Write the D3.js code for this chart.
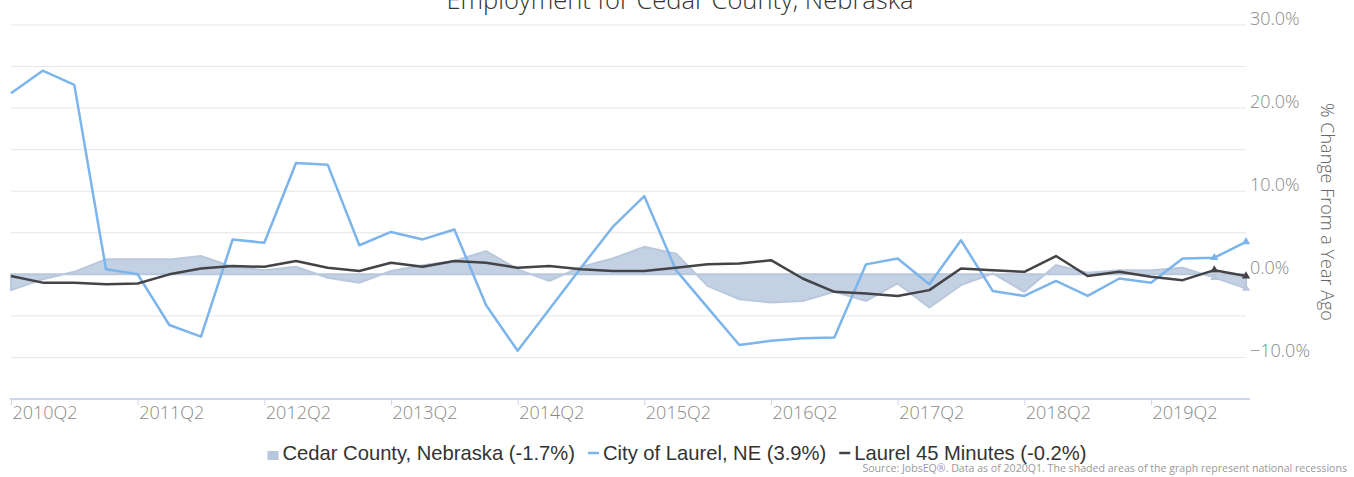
<!DOCTYPE html>
<html>
<head>
<meta charset="utf-8">
<script src="https://cdn.jsdelivr.net/npm/d3@7"></script>
<style>
    body { margin: 0; background: #fff; }
    svg { display: block; font-family: "Open Sans", sans-serif; }
</style>
</head>
<body>
<div id="vis"></div>
<script>
var quarters = [
    "2010Q2", "2010Q3", "2010Q4", "2011Q1", "2011Q2", "2011Q3", "2011Q4", "2012Q1",
    "2012Q2", "2012Q3", "2012Q4", "2013Q1", "2013Q2", "2013Q3", "2013Q4", "2014Q1",
    "2014Q2", "2014Q3", "2014Q4", "2015Q1", "2015Q2", "2015Q3", "2015Q4", "2016Q1",
    "2016Q2", "2016Q3", "2016Q4", "2017Q1", "2017Q2", "2017Q3", "2017Q4", "2018Q1",
    "2018Q2", "2018Q3", "2018Q4", "2019Q1", "2019Q2", "2019Q3", "2019Q4", "2020Q1"
];

// Cedar County, Nebraska (shaded area)
var cedarCounty = [
    -1.9, -0.6, 0.3, 1.8, 1.8, 1.8, 2.2, 0.9, 0.5, 0.9,
    -0.4, -1.0, 0.4, 1.1, 1.6, 2.8, 0.6, -0.8, 0.9, 1.9,
    3.3, 2.5, -1.4, -3.0, -3.4, -3.2, -2.1, -3.2, -1.1, -4.0,
    -1.3, 0.1, -2.1, 1.1, 0.2, 0.5, 0.5, 0.8, -0.4, -1.7
];

// City of Laurel, NE
var cityLaurel = [
    21.8, 24.5, 22.8, 0.6, 0.0, -6.1, -7.5, 4.2, 3.8, 13.4,
    13.2, 3.5, 5.1, 4.2, 5.4, -3.7, -9.2, -4.2, 0.8, 5.7,
    9.4, 0.5, -4.0, -8.5, -8.0, -7.7, -7.6, 1.2, 1.9, -1.2,
    4.1, -2.0, -2.6, -0.8, -2.6, -0.5, -1.0, 1.9, 2.0, 3.9
];

// Laurel 45 Minutes
var laurel45 = [
    -0.2, -1.0, -1.0, -1.2, -1.1, 0.0, 0.7, 1.0, 0.9, 1.6,
    0.8, 0.4, 1.4, 0.9, 1.6, 1.4, 0.8, 1.0, 0.6, 0.4,
    0.4, 0.8, 1.2, 1.3, 1.7, -0.5, -2.1, -2.3, -2.6, -1.9,
    0.7, 0.5, 0.3, 2.2, -0.2, 0.3, -0.3, -0.7, 0.5, -0.2
];

var xTickLabels = ["2010Q2", "2011Q2", "2012Q2", "2013Q2", "2014Q2", "2015Q2", "2016Q2", "2017Q2", "2018Q2", "2019Q2"];
var yTickValues = [-10, 0, 10, 20, 30];
var yGridValues = [-10, -5, 0, 5, 10, 15, 20, 25, 30];

var legendNames = ["Cedar County, Nebraska (-1.7%)", "City of Laurel, NE (3.9%)", "Laurel 45 Minutes (-0.2%)"];

var width = 1354;
var height = 477;

var plot = { left: 11, right: 1246, top: 25, bottom: 399 };

var svg = d3.select("#vis")
    .append("svg")
    .attr("width", width)
    .attr("height", height);

svg.append("rect")
    .attr("width", width)
    .attr("height", height)
    .attr("fill", "#fff");

var xscale = d3.scalePoint()
    .domain(quarters)
    .range([plot.left, plot.right]);

var yscale = d3.scaleLinear()
    .domain([-15, 30])
    .range([plot.bottom, plot.top]);

// grid lines
svg.append("g")
    .attr("class", "grid")
    .selectAll("line")
    .data(yGridValues)
    .enter()
    .append("line")
    .attr("x1", plot.left)
    .attr("x2", plot.right)
    .attr("y1", function (d) { return yscale(d); })
    .attr("y2", function (d) { return yscale(d); })
    .attr("stroke", "#e6e6e6")
    .attr("stroke-width", 1);

// y axis on the right
var yaxis = d3.axisRight(yscale)
    .tickValues(yTickValues)
    .tickSize(0)
    .tickFormat(function (d) { return d3.format(".1f")(d) + "%"; });

var gy = svg.append("g")
    .attr("transform", "translate(1250,0)")
    .call(yaxis);
gy.select(".domain").remove();
gy.selectAll("text")
    .attr("x", 0)
    .attr("dy", "-0.05em")
    .attr("fill", "#888")
    .style("font-family", "'Open Sans', sans-serif")
    .style("font-size", "18px")
    .style("font-weight", "300");

svg.append("text")
    .attr("transform", "translate(1321," + ((plot.top + plot.bottom) / 2) + ") rotate(90)")
    .attr("text-anchor", "middle")
    .attr("fill", "#666")
    .style("font-size", "18px")
    .style("font-weight", "300")
    .text("% Change From a Year Ago");

// x axis
var xaxis = d3.axisBottom(xscale)
    .tickValues(xTickLabels)
    .tickSizeInner(6)
    .tickSizeOuter(0);

var gx = svg.append("g")
    .attr("transform", "translate(0," + plot.bottom + ")")
    .call(xaxis);
gx.select(".domain")
    .attr("stroke", "#ccd6eb")
    .attr("stroke-width", 2)
    .attr("d", "M" + (plot.left - 1) + ",0H" + (plot.right + 4));
gx.selectAll(".tick line")
    .attr("stroke", "#ccd6eb");
gx.selectAll("text")
    .attr("text-anchor", "start")
    .attr("x", 1)
    .attr("y", 7)
    .attr("dy", "0.71em")
    .attr("fill", "#888")
    .style("font-family", "'Open Sans', sans-serif")
    .style("font-size", "18px")
    .style("font-weight", "300");

// Cedar County area
var area = d3.area()
    .x(function (d, i) { return xscale(quarters[i]); })
    .y0(yscale(0))
    .y1(function (d) { return yscale(d); });

svg.append("path")
    .datum(cedarCounty)
    .attr("d", area)
    .attr("fill", "#c4d1e3")
    .attr("stroke", "#b9c8dd")
    .attr("stroke-width", 2);

var line = d3.line()
    .x(function (d, i) { return xscale(quarters[i]); })
    .y(function (d) { return yscale(d); });

svg.append("path")
    .datum(cityLaurel)
    .attr("d", line)
    .attr("fill", "none")
    .attr("stroke", "#7cb5ec")
    .attr("stroke-width", 2.5)
    .attr("stroke-linejoin", "round");

svg.append("path")
    .datum(laurel45)
    .attr("d", line)
    .attr("fill", "none")
    .attr("stroke", "#434348")
    .attr("stroke-width", 2.5)
    .attr("stroke-linejoin", "round");

// triangle markers on the last two quarters
var tri = d3.symbol().type(d3.symbolTriangle).size(30);
var markerSeries = [
    { values: cedarCounty, color: "#b9c8dd" },
    { values: cityLaurel, color: "#7cb5ec" },
    { values: laurel45, color: "#434348" }
];
markerSeries.forEach(function (s) {
    svg.append("g")
        .selectAll("path")
        .data(s.values.slice(-2))
        .enter()
        .append("path")
        .attr("d", tri)
        .attr("fill", s.color)
        .attr("transform", function (d, i) {
            var q = quarters[quarters.length - 2 + i];
            return "translate(" + xscale(q) + "," + yscale(d) + ")";
        });
});

// title
svg.append("text")
    .attr("x", 680)
    .attr("y", 9)
    .attr("text-anchor", "middle")
    .attr("fill", "#333")
    .style("font-size", "25.5px")
    .style("font-weight", "300")
    .text("Employment for Cedar County, Nebraska");

// legend
var legend = svg.append("g")
    .style("font-family", "'Liberation Sans', Arial, sans-serif")
    .style("font-size", "20.2px");

var legendY = 460;
var items = legend.selectAll("g")
    .data(legendNames)
    .enter()
    .append("g");

items.append("text")
    .attr("x", 15)
    .attr("y", legendY)
    .attr("fill", "#333")
    .text(function (d) { return d; });

items.each(function (d, i) {
    var g = d3.select(this);
    if (i === 0) {
        g.append("rect")
            .attr("x", 0)
            .attr("y", legendY - 9)
            .attr("width", 11)
            .attr("height", 9)
            .attr("fill", "#b6c6dd");
    } else {
        g.append("line")
            .attr("x1", 0)
            .attr("x2", 11)
            .attr("y1", legendY - 7)
            .attr("y2", legendY - 7)
            .attr("stroke", i === 1 ? "#7cb5ec" : "#434348")
            .attr("stroke-width", 2.5);
    }
});

var widths = [];
items.select("text").each(function () { widths.push(15 + this.getComputedTextLength()); });
var gap = 13;
var total = d3.sum(widths) + gap * (widths.length - 1);
var cursor = 677 - total / 2;
items.attr("transform", function (d, i) {
    var t = "translate(" + cursor + ",0)";
    cursor += widths[i] + gap;
    return t;
});

// source note
svg.append("text")
    .attr("x", 1347)
    .attr("y", 472)
    .attr("text-anchor", "end")
    .attr("fill", "#999")
    .style("font-size", "10.6px")
    .text("Source: JobsEQ\u00ae. Data as of 2020Q1. The shaded areas of the graph represent national recessions");
</script>
</body>
</html>
